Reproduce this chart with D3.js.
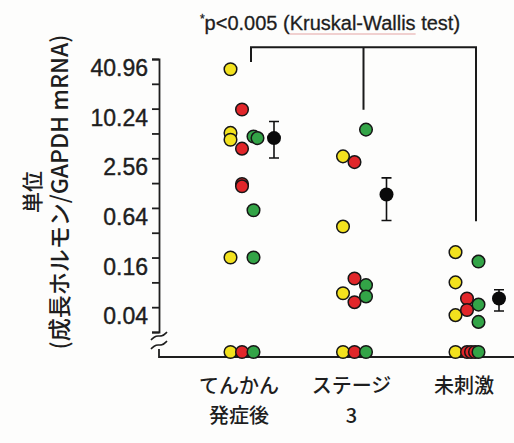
<!DOCTYPE html>
<html>
<head>
<meta charset="utf-8">
<script src="https://cdn.jsdelivr.net/npm/d3@7"></script>
<style>
  body { margin: 0; background: #fdfdfc; }
  svg { display: block; }
  text { fill: #1e1e1e; }
</style>
</head>
<body>
<script>
// categories (x axis), one row of labels per line
const categories = ["epilepsy", "stage3", "unstim"];
const categoryLines = [["てんかん", "発症後"], ["ステージ", "3"], ["未刺激"]];

// values per group, 0 = below detection (drawn on the baseline)
const yellowValues = [[30.8, 5.2, 4.3, 0.16, 0], [2.7, 0.38, 0.059, 0], [0.186, 0.08, 0.032, 0]];
const redValues = [[10, 3.35, 1.25, 1.17, 0], [2.3, 0.089, 0.046, 0], [0.051, 0.037, 0, 0, 0]];
const greenValues = [[4.7, 4.5, 0.6, 0.16, 0], [5.7, 0.074, 0.054, 0], [0.143, 0.043, 0.0265, 0]];

// mean and error bar per group
const meanValues = [4.5, 0.93, 0.051];
const errLow = [2.58, 0.45, 0.036];
const errHigh = [7.15, 1.48, 0.065];

// y axis
const tickValues = [40.96, 20.48, 10.24, 5.12, 2.56, 1.28, 0.64, 0.32, 0.16, 0.08, 0.04, 0.02];
const tickLabels = ["40.96", "10.24", "2.56", "0.64", "0.16", "0.04"];

// significance bracket: top and leg end per group
const bracketTop = 57;
const bracketEnds = [37.7, 9.9, 0.44];

const title = "p<0.005 (Kruskal-Wallis test)";
const yTitle = ["単位", "(成長ホルモン/GAPDH mRNA)"];

const width = 514, height = 443;
const numFont = "'Liberation Sans', 'Noto Sans CJK JP', sans-serif";
const jpFont = "'Noto Sans CJK JP', 'Liberation Sans', sans-serif";

const svg = d3.select("body").append("svg")
    .attr("width", width)
    .attr("height", height)
    .attr("viewBox", [0, 0, width, height]);

const x = d3.scalePoint()
    .domain(categories)
    .range([242, 467]);

const y = d3.scaleLog()
    .base(2)
    .domain([0.02, 40.96])
    .range([332, 59]);

const axisX = 159;
const baseY = 357;
const zeroY = 352;

const colour = d3.scaleOrdinal()
    .domain(["yellow", "red", "green"])
    .range(["#f3e21e", "#e1262a", "#33a447"]);
const offset = { yellow: -11.5, red: 0, green: 11.5 };

// y axis
const yAxis = d3.axisLeft(y)
    .tickValues(tickValues)
    .tickSize(7)
    .tickPadding(4)
    .tickFormat(d => {
      const s = String(+d.toFixed(2));
      return tickLabels.includes(s) ? s : "";
    });

const gy = svg.append("g")
    .attr("transform", `translate(${axisX},0)`)
    .call(yAxis);

gy.select(".domain").attr("stroke", "#1e1e1e").attr("stroke-width", 1.8);
gy.selectAll(".tick line").attr("stroke", "#1e1e1e").attr("stroke-width", 1.8);
gy.selectAll(".tick text")
    .attr("dy", "0.72em")
    .style("font", `23px ${numFont}`)
    .attr("fill", "#1e1e1e")
    .attr("stroke", "#1e1e1e")
    .attr("stroke-width", 0.4);

// axis break and baseline
const brk = d3.line().curve(d3.curveBasis);
[336, 345].forEach(by => {
  svg.append("path")
      .attr("d", brk([[axisX - 8, by + 4], [axisX - 3, by - 1], [axisX + 3, by + 1], [axisX + 8, by - 4]]))
      .attr("fill", "none")
      .attr("stroke", "#1e1e1e")
      .attr("stroke-width", 1.6);
});

svg.append("path")
    .attr("d", `M${axisX},${349}V${baseY}H${width}`)
    .attr("fill", "none")
    .attr("stroke", "#1e1e1e")
    .attr("stroke-width", 1.8);

// points
const points = [];
[["yellow", yellowValues], ["red", redValues], ["green", greenValues]].forEach(([name, vals]) => {
  vals.forEach((list, gi) => {
    list.forEach(v => points.push({ name, cat: categories[gi], value: v }));
  });
});

points.forEach((p, i) => {
  p.cy = p.value > 0 ? y(p.value) : zeroY;
  // nudge points of the same colour that sit on top of each other
  const before = points.slice(0, i).filter(q => q.name === p.name && q.cat === p.cat && Math.abs(q.cy - p.cy) < 2);
  p.cx = x(p.cat) + offset[p.name] + before.length * 4;
});

svg.append("g")
  .selectAll("circle")
  .data(points)
  .join("circle")
    .attr("cx", d => d.cx)
    .attr("cy", d => d.cy)
    .attr("r", 6.3)
    .attr("fill", d => colour(d.name))
    .attr("stroke", "#161616")
    .attr("stroke-width", 1.5);

// means with error bars
const mg = svg.append("g")
  .selectAll("g")
  .data(categories)
  .join("g")
    .attr("transform", d => `translate(${x(d) + 32},0)`);

mg.append("path")
    .attr("d", (d, i) => `M-5,${y(errHigh[i])}H5M0,${y(errHigh[i])}V${y(errLow[i])}M-5,${y(errLow[i])}H5`)
    .attr("fill", "none")
    .attr("stroke", "#111")
    .attr("stroke-width", 1.6);

mg.append("circle")
    .attr("cy", (d, i) => y(meanValues[i]))
    .attr("r", 7)
    .attr("fill", "#0a0a0a");

// significance bracket
const legX = d => x(d) + 9;
svg.append("path")
    .attr("d", `M${legX(categories[0])},${y(bracketEnds[0])}V${y(bracketTop)}H${legX(categories[2])}V${y(bracketEnds[2])}` +
               `M${legX(categories[1])},${y(bracketTop)}V${y(bracketEnds[1])}`)
    .attr("fill", "none")
    .attr("stroke", "#1a1a1a")
    .attr("stroke-width", 2);

// title
const t = svg.append("text")
    .attr("x", 330)
    .attr("y", 30)
    .attr("text-anchor", "middle")
    .style("font", `20px ${numFont}`)
    .attr("stroke", "#1e1e1e")
    .attr("stroke-width", 0.3);
t.append("tspan").attr("dy", -7).style("font-size", "12px").text("*");
t.append("tspan").attr("dy", 7).text(title);

// faint underline under Kruskal-Wallis, as in the original
const tnode = t.select("tspan:last-child").node();
const k = title.indexOf("Kruskal-Wallis");
const sx = tnode.getStartPositionOfChar(k).x;
const sw = tnode.getSubStringLength(k, "Kruskal-Wallis".length);
svg.append("line")
    .attr("x1", sx).attr("x2", sx + sw)
    .attr("y1", 34).attr("y2", 34)
    .attr("stroke", "#e3a3a3")
    .attr("stroke-width", 1);

// category labels, one text per line
const labelRows = categories.flatMap((c, i) => categoryLines[i].map((s, j) => ({ c, s, j })));
svg.append("g")
  .selectAll("text")
  .data(labelRows)
  .join("text")
    .attr("x", d => x(d.c) - 3)
    .attr("y", d => 393 + d.j * 30)
    .attr("text-anchor", "middle")
    .style("font", `500 20px ${jpFont}`)
    .text(d => d.s);

// y title, one text per line
svg.append("g")
  .selectAll("text")
  .data(yTitle)
  .join("text")
    .attr("transform", (d, i) => `translate(${i ? 68 : 40},192) rotate(-90)`)
    .attr("text-anchor", "middle")
    .style("font", (d, i) => `500 ${i ? 23 : 21}px ${jpFont}`)
    .text(d => d);
</script>
</body>
</html>
